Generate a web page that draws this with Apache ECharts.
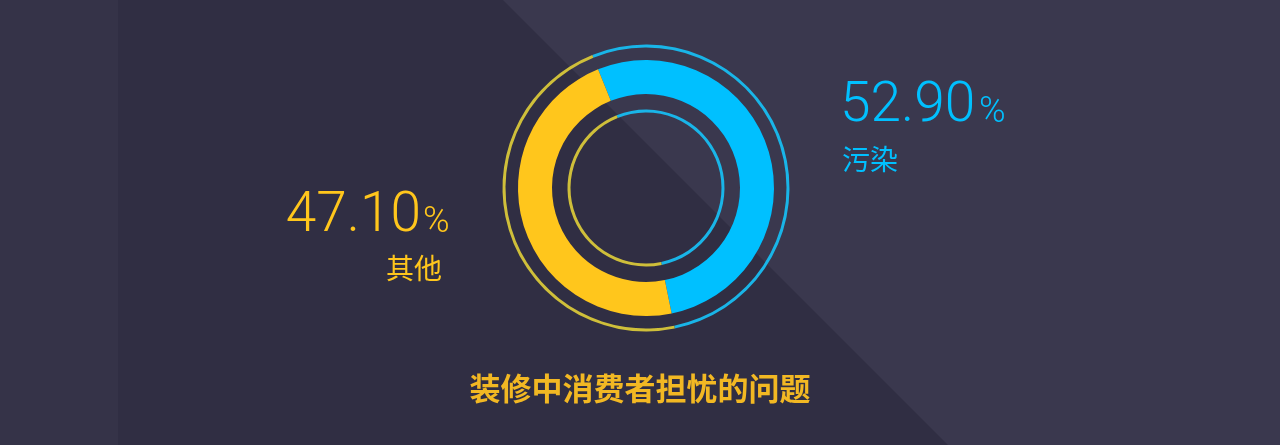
<!DOCTYPE html>
<html>
<head>
<meta charset="utf-8">
<title>装修中消费者担忧的问题</title>
<script src="https://cdn.jsdelivr.net/npm/echarts@6/dist/echarts.min.js"></script>
<style>
  html, body { margin: 0; padding: 0; background: #3a384e; }
  #chart { width: 1280px; height: 445px; }
</style>
</head>
<body>
<div id="chart"></div>
<script>
// 数据
var names = ['污染', '其他'];
var values = [52.9, 47.1];
var chartTitle = '装修中消费者担忧的问题';

var blue = '#00c0ff';
var yellow = '#ffc61c';
var thinBlue = '#19b5e8';
var thinYellow = '#cfbf3a';

var myChart = echarts.init(document.getElementById('chart'));

function ring(radius, colors) {
  return {
    type: 'pie',
    center: [646, 188],
    radius: radius,
    startAngle: 112,
    clockwise: true,
    silent: true,
    label: { show: false },
    labelLine: { show: false },
    emphasis: { disabled: true },
    itemStyle: { borderWidth: 0 },
    animation: false,
    data: names.map(function (n, i) {
      return { name: n, value: values[i], itemStyle: { color: colors[i] } };
    })
  };
}

function pctText(v) {
  return v.toFixed(2);
}

var numFont = 'Roboto, "Noto Sans", sans-serif';
var cjkFont = '"Noto Sans CJK SC", sans-serif';

var option = {
  backgroundColor: '#3a384e',
  graphic: [
    // 背景
    { type: 'rect', z: -10, shape: { x: 0, y: 0, width: 118, height: 445 }, style: { fill: '#353348' } },
    { type: 'polygon', z: -10, shape: { points: [[118, 0], [503, 0], [948, 445], [118, 445]] }, style: { fill: '#302e43' } },

    // 右侧 污染
    { type: 'text', style: { text: pctText(values[0]), x: 840, y: 107, align: 'left', verticalAlign: 'middle',
        font: '300 55px ' + numFont, fill: blue } },
    { type: 'text', style: { text: '%', x: 979, y: 113, align: 'left', verticalAlign: 'middle',
        font: '300 36px ' + numFont, fill: blue } },
    { type: 'text', style: { text: names[0], x: 842, y: 159, align: 'left', verticalAlign: 'middle',
        font: '28px ' + cjkFont, fill: blue } },

    // 左侧 其他
    { type: 'text', style: { text: pctText(values[1]), x: 421, y: 217, align: 'right', verticalAlign: 'middle',
        font: '300 55px ' + numFont, fill: yellow } },
    { type: 'text', style: { text: '%', x: 423, y: 223, align: 'left', verticalAlign: 'middle',
        font: '300 36px ' + numFont, fill: yellow } },
    { type: 'text', style: { text: names[1], x: 442, y: 268, align: 'right', verticalAlign: 'middle',
        font: '28px ' + cjkFont, fill: yellow } },

    // 标题
    { type: 'text', style: { text: chartTitle, x: 640, y: 388, align: 'center', verticalAlign: 'middle',
        font: 'bold 31px ' + cjkFont, fill: '#f2b823' } }
  ],
  series: [
    ring([140.5, 143.5], [thinBlue, thinYellow]),
    ring([94, 128], [blue, yellow]),
    ring([75.5, 78.5], [thinBlue, thinYellow])
  ]
};

myChart.setOption(option);
</script>
</body>
</html>
